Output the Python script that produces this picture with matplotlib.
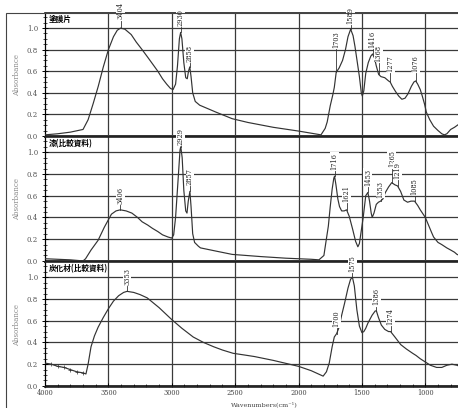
import numpy as np
import matplotlib.pyplot as plt
from matplotlib.patches import Rectangle

# Espectros (número de onda em cm-1, absorbância)
wn_1 = [4000, 3900, 3800, 3700, 3660, 3620, 3580, 3540, 3500, 3460, 3430, 3404, 3370, 3320, 3280,
        3234, 3190, 3153, 3110, 3073, 3040, 3010, 2990, 2970, 2955, 2940, 2930, 2920, 2905, 2890,
        2878, 2868, 2858, 2848, 2835, 2815, 2780, 2750, 2650, 2524, 2400, 2200, 2000, 1823, 1790,
        1774, 1750, 1730, 1718, 1703, 1680, 1653, 1630, 1610, 1589, 1570, 1555, 1540, 1520, 1505,
        1497, 1485, 1470, 1450, 1430, 1416, 1400, 1387, 1368, 1350, 1320, 1290, 1277, 1260, 1234,
        1210, 1185, 1160, 1137, 1110, 1090, 1076, 1060, 1040, 1024, 1005, 992, 965, 935, 900,
        870, 850, 830, 800, 770, 734, 700, 669]
abs_1 = [0.01, 0.02, 0.035, 0.06, 0.15, 0.30, 0.46, 0.64, 0.80, 0.92, 0.98, 1.00, 0.99, 0.94, 0.87,
         0.80, 0.73, 0.67, 0.60, 0.53, 0.48, 0.44, 0.43, 0.48, 0.65, 0.90, 0.96, 0.90, 0.68, 0.54,
         0.53, 0.60, 0.64, 0.55, 0.40, 0.32, 0.285, 0.27, 0.22, 0.16, 0.125, 0.08, 0.045, 0.01, 0.07,
         0.13, 0.28, 0.38, 0.45, 0.59, 0.63, 0.70, 0.80, 0.92, 0.99, 0.93, 0.83, 0.71, 0.55, 0.40,
         0.37, 0.42, 0.58, 0.68, 0.74, 0.76, 0.72, 0.65, 0.57, 0.55, 0.54, 0.51, 0.50, 0.46, 0.41,
         0.37, 0.34, 0.35, 0.39, 0.46, 0.50, 0.51, 0.48, 0.43, 0.37, 0.29, 0.22, 0.15, 0.09, 0.05,
         0.02, 0.01, 0.02, 0.06, 0.08, 0.11, 0.12, 0.14]

wn_2 = [4000, 3900, 3800, 3700, 3680, 3637, 3581, 3532, 3476, 3440, 3406, 3360, 3315, 3270, 3234,
        3190, 3153, 3110, 3073, 3030, 3000, 2985, 2970, 2950, 2935, 2929, 2918, 2905, 2890, 2880,
        2870, 2857, 2848, 2835, 2820, 2790, 2774, 2650, 2524, 2300, 2100, 1900, 1839, 1800, 1782,
        1765, 1750, 1735, 1722, 1716, 1705, 1690, 1677, 1660, 1640, 1621, 1600, 1573, 1550, 1532,
        1520, 1505, 1490, 1470, 1453, 1440, 1427, 1419, 1405, 1387, 1370, 1353, 1335, 1315, 1290,
        1265, 1240, 1219, 1195, 1169, 1140, 1113, 1085, 1060, 1040, 1000, 975, 950, 935, 900,
        870, 831, 800, 770, 750, 710, 669]
abs_2 = [0.02, 0.015, 0.01, 0.0, 0.02, 0.10, 0.19, 0.31, 0.43, 0.46, 0.47, 0.46, 0.44, 0.40, 0.36,
         0.33, 0.30, 0.27, 0.24, 0.22, 0.21, 0.24, 0.40, 0.75, 1.02, 1.05, 0.95, 0.65, 0.46, 0.44,
         0.55, 0.64, 0.50, 0.25, 0.17, 0.135, 0.12, 0.09, 0.06, 0.04, 0.025, 0.015, 0.01, 0.05, 0.19,
         0.32, 0.50, 0.66, 0.76, 0.78, 0.70, 0.57, 0.50, 0.46, 0.46, 0.47, 0.41, 0.29, 0.18, 0.13,
         0.16, 0.28, 0.40, 0.60, 0.63, 0.55, 0.44, 0.40, 0.44, 0.52, 0.54, 0.55, 0.57, 0.63, 0.68,
         0.72, 0.70, 0.69, 0.64, 0.56, 0.54, 0.55, 0.55, 0.51, 0.47, 0.40, 0.33, 0.26, 0.22, 0.17,
         0.15, 0.12, 0.10, 0.08, 0.06, 0.04, 0.01]

wn_3 = [4000, 3950, 3900, 3850, 3800, 3750, 3700, 3677, 3660, 3637, 3610, 3581, 3540, 3500, 3460,
        3419, 3380, 3353, 3300, 3250, 3194, 3100, 3000, 2920, 2831, 2750, 2669, 2600, 2516, 2430,
        2347, 2200, 2000, 1900, 1806, 1780, 1758, 1735, 1718, 1700, 1680, 1660, 1637, 1610, 1590,
        1575, 1560, 1540, 1520, 1500, 1485, 1470, 1452, 1420, 1395, 1386, 1370, 1347, 1320, 1290,
        1274, 1240, 1194, 1150, 1100, 1073, 1040, 1000, 960, 911, 870, 830, 790, 750, 710, 669]
abs_3 = [0.21, 0.20, 0.18, 0.17, 0.15, 0.13, 0.12, 0.11, 0.20, 0.36, 0.46, 0.54, 0.63, 0.71, 0.78,
         0.83, 0.86, 0.87, 0.86, 0.84, 0.81, 0.72, 0.61, 0.53, 0.45, 0.40, 0.36, 0.33, 0.30, 0.285,
         0.27, 0.235, 0.18, 0.14, 0.09, 0.13, 0.21, 0.36, 0.45, 0.48, 0.54, 0.65, 0.76, 0.90, 0.98,
         1.00, 0.92, 0.70, 0.55, 0.49, 0.50, 0.53, 0.58, 0.65, 0.69, 0.69, 0.63, 0.56, 0.52, 0.50,
         0.50, 0.45, 0.38, 0.34, 0.30, 0.28, 0.25, 0.22, 0.19, 0.17, 0.17, 0.19, 0.20, 0.19, 0.17, 0.12]

# Picos marcados e altura onde começa o rótulo
picos_1 = [3404, 2930, 2858, 1703, 1589, 1416, 1368, 1277, 1076]
rotulo_1 = [1.08, 1.02, 0.69, 0.82, 1.04, 0.82, 0.69, 0.59, 0.59]
picos_2 = [3406, 2929, 2857, 1716, 1621, 1453, 1353, 1265, 1219, 1085]
rotulo_2 = [0.52, 1.07, 0.70, 0.84, 0.54, 0.69, 0.58, 0.86, 0.75, 0.61]
picos_3 = [3353, 1700, 1575, 1386, 1274]
rotulo_3 = [0.93, 0.54, 1.05, 0.74, 0.56]

nomes = ["塗膜片", "漆(比較資料)", "炭化材(比較資料)"]
xticks = [4000, 3500, 3000, 2500, 2000, 1500, 1000]

espectros = [(wn_1, abs_1, picos_1, rotulo_1),
             (wn_2, abs_2, picos_2, rotulo_2),
             (wn_3, abs_3, picos_3, rotulo_3)]

serif = "DejaVu Serif"
cor = "#333333"

fig = plt.figure(figsize=(4.58, 4.08), dpi=100)

# moldura externa
fig.patches.append(Rectangle((6 / 458, -0.1), 1.2, 1.1 - 13 / 408, transform=fig.transFigure,
                             fill=False, edgecolor="#444444", linewidth=0.8))

# posições dos painéis (pixels da figura: topo, base)
paineis = [(13, 137), (137, 262), (262, 387)]
left = 45 / 458

for i, (wn, ab, picos, rotulos) in enumerate(espectros):
    top, bot = paineis[i]
    ax = fig.add_axes([left, 1 - bot / 408, 1.0 - left + 0.02, (bot - top) / 408])
    ax.set_xlim(4000, 670)
    ax.set_ylim(-0.01, 1.14)

    # grade
    for yv in [0.2, 0.4, 0.6, 0.8, 1.0]:
        ax.axhline(yv, color="#3a3a3a", lw=0.9, zorder=1)
    ax.axhline(0.0, color="#222222", lw=1.3, zorder=1)
    for xv in xticks[1:]:
        ax.axvline(xv, color="#3a3a3a", lw=0.9, zorder=1)

    ax.plot(wn, ab, color=cor, lw=0.85, zorder=3)
    if i == 2:
        ruido = [p for p in zip(wn, ab) if p[0] > 3680 and p[0] < 4000]
        ax.plot([p[0] for p in ruido], [p[1] for p in ruido], ls="none", marker="+",
                ms=2.5, mew=0.5, color=cor, zorder=3)

    # rótulos dos picos
    xs = np.array(wn[::-1], dtype=float)
    ys = np.array(ab[::-1], dtype=float)
    for p, r in zip(picos, rotulos):
        yp = np.interp(p, xs, ys)
        ax.plot([p, p], [yp, r - 0.01], color=cor, lw=0.6, zorder=4, clip_on=False)
        ax.text(p, r, str(p), rotation=90, ha="center", va="bottom", fontsize=4.8,
                family=serif, color="#222222", clip_on=False, zorder=5,
                bbox=dict(facecolor="white", edgecolor="none", pad=0.3))

    ax.text(0.008, 0.985, nomes[i], transform=ax.transAxes, ha="left", va="top",
            fontsize=5.5, fontweight="bold", family=["Noto Sans CJK JP", "DejaVu Sans"],
            zorder=6)

    ax.set_yticks([0.0, 0.2, 0.4, 0.6, 0.8, 1.0])
    ax.set_yticklabels(["0.0", "0.2", "0.4", "0.6", "0.8", "1.0"], family=serif,
                       fontsize=5, color="#555555")
    ax.set_yticks(np.arange(0, 1.15, 0.05), minor=True)
    ax.tick_params(axis="y", which="major", direction="inout", length=4, width=0.7, pad=3)
    ax.tick_params(axis="y", which="minor", direction="inout", length=2.5, width=0.5)
    ax.set_ylabel("Absorbance", family=serif, fontsize=5, color="#888888", labelpad=4)

    if i == 2:
        ax.set_xticks(xticks)
        ax.set_xticklabels([str(x) for x in xticks], family=serif, fontsize=4.8, color="#444444")
        ax.set_xticks(np.arange(700, 4001, 100), minor=True)
        ax.tick_params(axis="x", which="major", direction="in", length=3, width=0.7, pad=1.5)
        ax.tick_params(axis="x", which="minor", direction="in", length=2, width=0.5)
    else:
        ax.set_xticks([])

    for s in ["top", "bottom"]:
        ax.spines[s].set_linewidth(1.2)
        ax.spines[s].set_color("#222222")
    ax.spines["left"].set_linewidth(0.9)
    ax.spines["right"].set_visible(False)

fig.text(264 / 458, 1 - 407.5 / 408, "Wavenumbers(cm⁻¹)", ha="center", va="bottom",
         family=serif, fontsize=4.6, color="#444444")

fig.savefig("out.png", dpi=100)
